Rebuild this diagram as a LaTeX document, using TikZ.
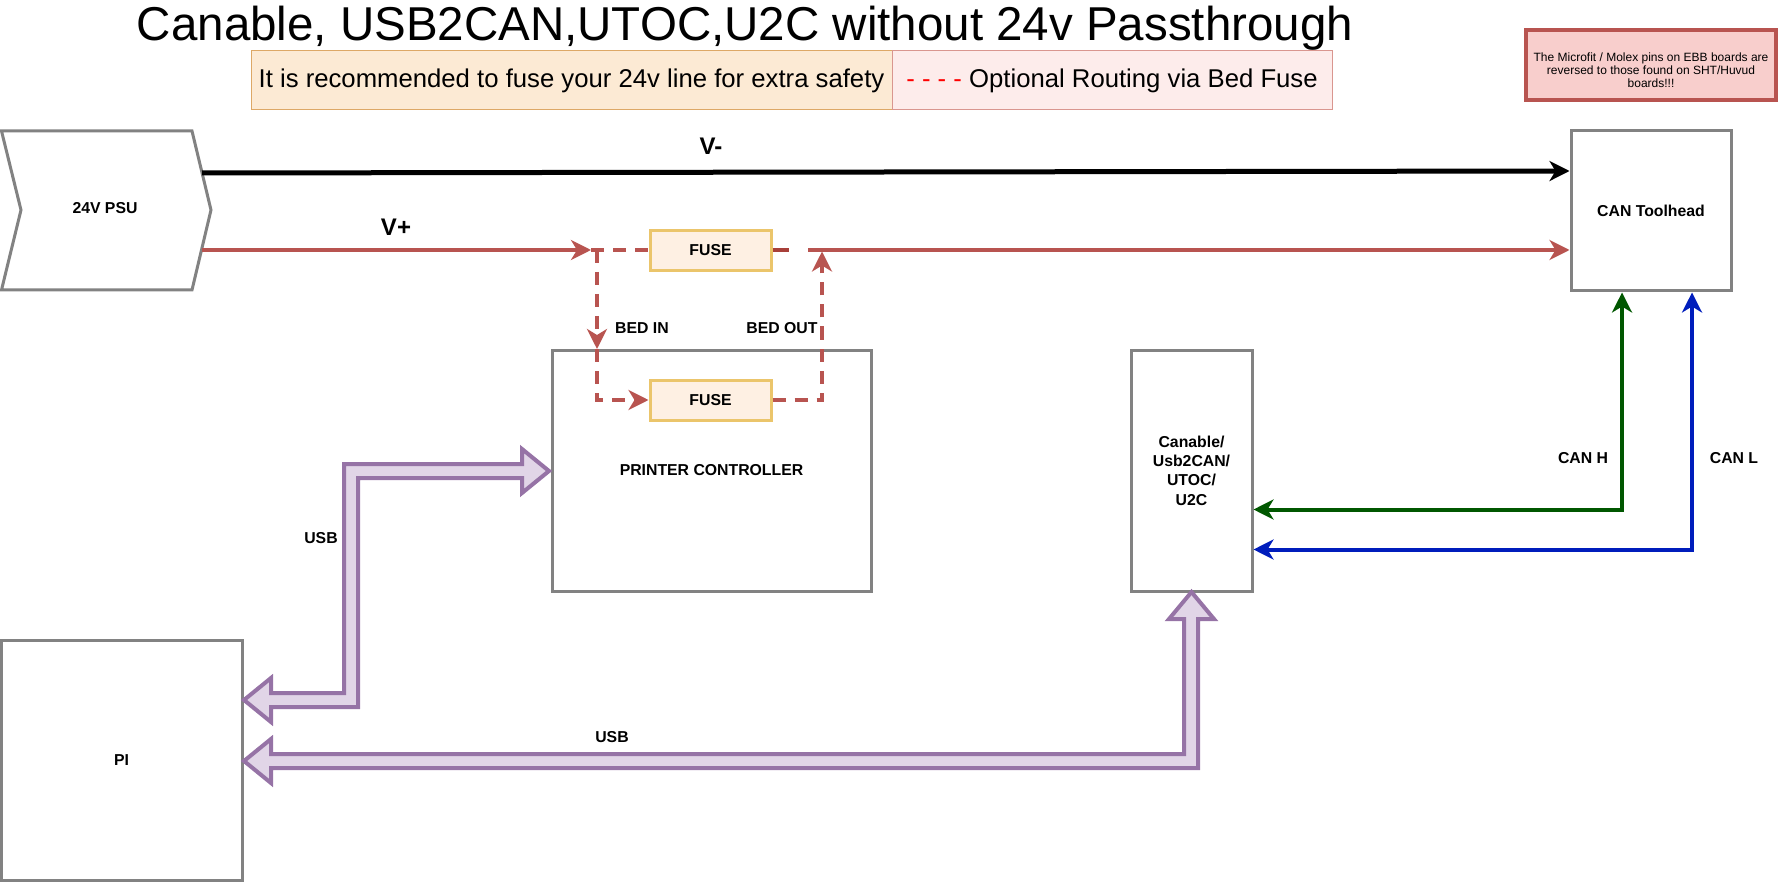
\documentclass[tikz,border=0pt]{standalone}
\usepackage{fontspec}
\setmainfont{Liberation Sans}
\usetikzlibrary{arrows.meta,calc}
\definecolor{boxgray}{HTML}{828282}
\definecolor{redline}{HTML}{B85450}
\definecolor{reddark}{HTML}{A8403A}
\definecolor{fusefill}{HTML}{FEF0E3}
\definecolor{fusestroke}{HTML}{EBC56B}
\definecolor{legLf}{HTML}{FCEAD4}
\definecolor{legLs}{HTML}{DDA866}
\definecolor{legRf}{HTML}{FDECEB}
\definecolor{legRs}{HTML}{D9968F}
\definecolor{notefill}{HTML}{F8CECC}
\definecolor{cang}{HTML}{005700}
\definecolor{canb}{HTML}{001DBC}
\definecolor{usbstroke}{HTML}{9673A6}
\definecolor{usbfill}{HTML}{E1D5E7}
\newcommand\lblfont{\fontsize{15.8}{19.4}\selectfont\bfseries}
\newcommand\vfont{\fontsize{24}{28}\selectfont\bfseries}
\newcommand\titlefont{\fontsize{47.5}{57}\selectfont}
\newcommand\legfont{\fontsize{25.7}{30}\selectfont}
\newcommand\notefont{\fontsize{12}{13.2}\selectfont}
\begin{document}
\begin{tikzpicture}[x=1pt,y=-1pt,
  box/.style={draw=boxgray, line width=3pt, fill=white, inner sep=0pt, font=\lblfont, align=center},
  fusebox/.style={draw=fusestroke, line width=3pt, fill=fusefill, minimum width=121pt, minimum height=40pt, inner sep=0pt, font=\lblfont},
  lbl/.style={font=\lblfont, inner sep=0pt},
  vlbl/.style={font=\vfont, inner sep=0pt},
  tip/.style={-{Stealth[length=20pt,width=20pt,inset=6pt]}},
  dtip/.style={{Stealth[length=20pt,width=20pt,inset=6pt]}-{Stealth[length=20pt,width=20pt,inset=6pt]}},
  vplus/.style={draw=redline, line width=4.5pt},
  bedline/.style={draw=redline, line width=4.5pt, dash pattern=on 13pt off 9pt},
  usbarrow/.style={draw=usbstroke, fill=usbfill, line width=4pt, line join=miter},
]
\useasboundingbox (0,0) rectangle (1779,882);

% title and legend
\node[font=\titlefont, anchor=base, inner sep=0pt] (title) at (745,41) {Canable, USB2CAN,UTOC,U2C without 24v Passthrough};
\node[draw=legLs, fill=legLf, line width=1pt, minimum width=641pt, minimum height=59pt, inner sep=0pt, font=\legfont] (legL) at (571.5,80.5) {It is recommended to fuse your 24v line for extra safety};
\node[draw=legRs, fill=legRf, line width=1pt, minimum width=440pt, minimum height=59pt, inner sep=0pt, font=\legfont] (legR) at (1112,80.5) {\textcolor{red}{- - - -} Optional Routing via Bed Fuse};
\node[draw=redline, fill=notefill, line width=4pt, minimum width=250pt, minimum height=70pt, inner sep=0pt] (note) at (1651,65) {};
\node[align=center, font=\notefont, inner sep=0pt] (notetext) at (1651,70) {The Microfit / Molex pins on EBB boards are\\reversed to those found on SHT/Huvud\\boards!!!};

% PSU
\draw[draw=boxgray, line width=3pt, fill=white, line join=miter] (1.5,131) -- (192,131) -- (211,210) -- (192,290) -- (1.5,290) -- (21,210) -- cycle;
\node[lbl] (psu) at (105,208) {24V PSU};
\coordinate (psuN) at (202,173);
\coordinate (psuP) at (201.5,250);

% boxes
\node[box, minimum width=160pt, minimum height=160pt] (tool) at (1651,211) {CAN Toolhead};
\node[box, minimum width=319pt, minimum height=241pt] (ctrl) at (711.5,470.5) {PRINTER CONTROLLER};
\node[box, minimum width=121pt, minimum height=241pt] (canable) at (1191.5,470.5) {Canable/\\Usb2CAN/\\UTOC/\\U2C};
\node[box, minimum width=241pt, minimum height=240pt] (pi) at (121.5,760) {PI};

% fuses
\node[fusebox] (fuse1) at (710.5,250.5) {FUSE};
\node[fusebox] (fuse2) at (710.5,400) {FUSE};

% V- line
\draw[line width=5pt, tip] (psuN) -- (tool.west |- 0,171);
\node[vlbl] (vminus) at (711,146) {V-};

% V+ line and bed routing
\coordinate (jin) at (591,250);
\coordinate (bedL) at (597,250);
\coordinate (bedLb) at (597,349);
\coordinate (bedLc) at (597,400);
\coordinate (bedRc) at (822,400);
\coordinate (bedRt) at (822,251.5);
\coordinate (outA) at (789,250);
\coordinate (outB) at (808,250);
\draw[vplus, tip] (psuP) -- (jin);
\draw[bedline] (jin) -- (fuse1.west |- jin);
\draw[bedline, tip] (bedL) -- (bedLb);
\draw[bedline, tip] (bedLb) -- (bedLc) -- (fuse2.west);
\draw[bedline, tip] (fuse2.east) -- (bedRc) -- (bedRt);
\draw[draw=reddark, line width=4.5pt] (fuse1.east |- jin) -- (outA);
\draw[vplus, tip] (outB) -- (tool.west |- 0,250);
\node[vlbl] (vplusl) at (396,227) {V+};
\node[lbl] (bedin) at (642,328) {BED IN};
\node[lbl] (bedout) at (782,328) {BED OUT};

% CAN lines
\draw[draw=cang, line width=4pt, dtip, line join=miter] (canable.east |- 0,509.5) -- (1622,509.5) -- (tool.south -| 1622,0);
\draw[draw=canb, line width=4pt, dtip, line join=miter] (canable.east |- 0,549.5) -- (1692,549.5) -- (tool.south -| 1692,0);
\node[lbl] (canh) at (1583,458) {CAN H};
\node[lbl] (canl) at (1734,458) {CAN L};

% USB flex arrows
\draw[usbarrow] (244,700) -- (271,678) -- (271,693) -- (344,693) -- (344,464) -- (522,464) -- (522,449) -- (549,471) -- (522,493) -- (522,478) -- (358,478) -- (358,707) -- (271,707) -- (271,722) -- cycle;
\draw[usbarrow] (244,761) -- (271,739) -- (271,754) -- (1184,754) -- (1184,619) -- (1169,619) -- (1191.5,592) -- (1214,619) -- (1198,619) -- (1198,768) -- (271,768) -- (271,783) -- cycle;
\node[lbl] (usb1) at (321,538) {USB};
\node[lbl] (usb2) at (612,737) {USB};
\end{tikzpicture}
\end{document}
